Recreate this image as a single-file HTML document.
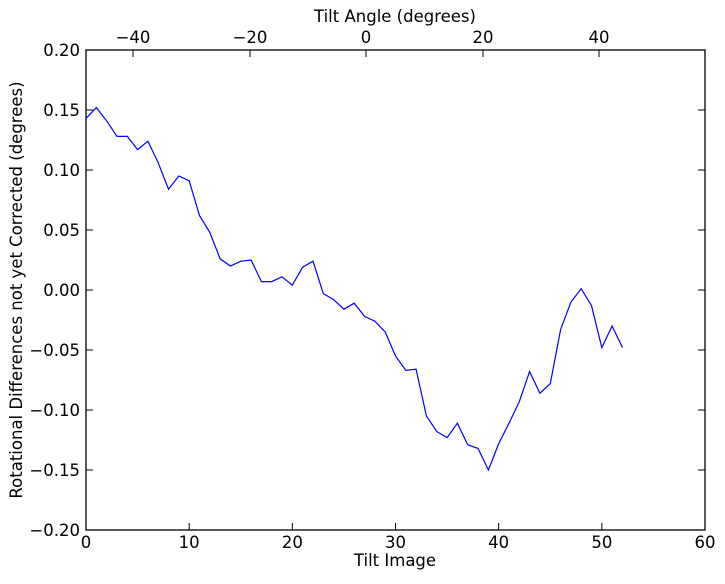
<!DOCTYPE html>
<html><head><style>body{margin:0;background:#fff}svg{font-family:"DejaVu Sans","Liberation Sans",sans-serif}</style></head>
<body>
<svg id="s" width="725" height="579" xmlns="http://www.w3.org/2000/svg">
<rect width="725" height="579" fill="#fff"/>
<g id="g" font-size="16.5" fill="#000"></g>
<rect x="86" y="50" width="619" height="480" fill="none" stroke="#000" stroke-width="1.3"/>
<polyline id="p" fill="none" stroke="#0000ff" stroke-width="1.2"/>
<text x="395" y="566" font-size="16.5" text-anchor="middle">Tilt Image</text>
<text x="395" y="22" font-size="16.5" text-anchor="middle">Tilt Angle (degrees)</text>
<text transform="translate(22,290) rotate(-90)" font-size="16.5" text-anchor="middle">Rotational Differences not yet Corrected (degrees)</text>
</svg>
<script>
var d=[0.143,0.152,0.141,0.128,0.128,0.117,0.124,0.106,0.084,0.095,0.091,0.062,0.048,0.026,0.020,0.024,0.025,0.007,0.007,0.011,0.004,0.019,0.024,-0.003,-0.008,-0.016,-0.011,-0.022,-0.026,-0.035,-0.055,-0.067,-0.066,-0.105,-0.118,-0.123,-0.111,-0.129,-0.132,-0.150,-0.128,-0.111,-0.093,-0.068,-0.086,-0.078,-0.033,-0.010,0.001,-0.013,-0.048,-0.030,-0.048];
function X(i){return 86+i*619/60}function Y(v){return 290-v*1200}
document.getElementById('p').setAttribute('points',d.map(function(v,i){return X(i).toFixed(1)+','+Y(v).toFixed(1)}).join(' '));
var h='';
for(var i=0;i<=60;i+=10){var x=X(i);h+='<line x1="'+x+'" y1="530" x2="'+x+'" y2="523" stroke="#000"/>';h+='<text x="'+x+'" y="548" text-anchor="middle">'+i+'</text>';}
for(var k=-4;k<=4;k++){var v=k*0.05,y=Y(v);h+='<line x1="86" y1="'+y+'" x2="93" y2="'+y+'" stroke="#000"/><line x1="705" y1="'+y+'" x2="698" y2="'+y+'" stroke="#000"/>';h+='<text x="80" y="'+(y+6)+'" text-anchor="end">'+(v<-1e-9?'\u2212':'')+Math.abs(v).toFixed(2)+'</text>';}
var t=[[-40,133],[-20,250],[0,366],[20,483],[40,599]];
t.forEach(function(a){h+='<line x1="'+a[1]+'" y1="50" x2="'+a[1]+'" y2="57" stroke="#000"/><text x="'+a[1]+'" y="43" text-anchor="middle">'+(a[0]<0?'\u2212'+(-a[0]):a[0])+'</text>';});
document.getElementById('g').innerHTML=h;
</script>
</body></html>
